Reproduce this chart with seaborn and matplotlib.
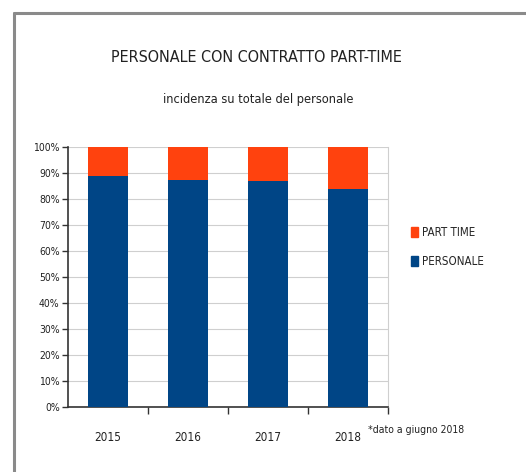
import pandas as pd
import seaborn as sns
from matplotlib import pyplot as plt
from matplotlib.lines import Line2D
from matplotlib.patches import Patch
from matplotlib.ticker import PercentFormatter, FixedLocator

anni = ['2015', '2016', '2017', '2018']
personale = [88.9, 87.5, 87.0, 84.0]
part_time = [11.1, 12.5, 13.0, 16.0]

blu = '#004586'
arancio = '#ff420e'

sns.set_style("white")
plt.rcParams['font.family'] = ['DejaVu Sans']
plt.rcParams['font.stretch'] = 'condensed'

df = pd.DataFrame({'anno': anni, 'PERSONALE': personale, 'PART TIME': part_time})
df['totale'] = df['PERSONALE'] + df['PART TIME']

fig = plt.figure(figsize=(5.26, 4.72), dpi=100)
# cornice grigia (solo sopra e a sinistra)
fig.lines.append(Line2D([13.5/526, 13.5/526], [0, 1 - 12.5/472], transform=fig.transFigure,
                        color='#8a8a8a', linewidth=2.2))
fig.lines.append(Line2D([13.5/526, 1], [1 - 12.5/472, 1 - 12.5/472], transform=fig.transFigure,
                        color='#8a8a8a', linewidth=2.2))

ax = fig.add_axes([68/526, 65/472, 320/526, 260/472])

sns.barplot(data=df, x='anno', y='totale', color=arancio, width=0.5, saturation=1,
            linewidth=0, ax=ax, zorder=3)
sns.barplot(data=df, x='anno', y='PERSONALE', color=blu, width=0.5, saturation=1,
            linewidth=0, ax=ax, zorder=3)

ax.set_xlim(-0.5, 3.5)
ax.set_ylim(0, 100)
ax.set_yticks(range(0, 101, 10))
ax.yaxis.set_major_formatter(PercentFormatter(decimals=0))
ax.grid(axis='y', color='#cfcfcf', linewidth=0.8, zorder=0)
ax.set_xlabel('')
ax.set_ylabel('')

ax.xaxis.set_minor_locator(FixedLocator([0.5, 1.5, 2.5, 3.5]))
ax.tick_params(axis='x', which='major', length=0, pad=17, labelsize=8.5, colors='#222222')
ax.tick_params(axis='x', which='minor', length=5, width=1, color='#333333', direction='out', bottom=True)
ax.tick_params(axis='y', length=4, width=1, color='#333333', direction='out', left=True,
               labelsize=7.5, colors='#222222', pad=2)

for s in ['left', 'bottom']:
    ax.spines[s].set_color('#333333')
    ax.spines[s].set_linewidth(1.2)
ax.spines['right'].set_color('#cfcfcf')
ax.spines['right'].set_linewidth(0.8)
ax.spines['top'].set_visible(False)

fig.text(256/526, 1 - 57/472, 'PERSONALE CON CONTRATTO PART-TIME', ha='center', va='center',
         fontsize=11.5, color='#222222')
fig.text(258/526, 1 - 100/472, 'incidenza su totale del personale', ha='center', va='center',
         fontsize=9.2, color='#222222')
fig.text(368/526, 1 - 430/472, '*dato a giugno 2018', ha='left', va='center',
         fontsize=7.5, color='#222222')

handles = [Patch(color=arancio, label='PART TIME'), Patch(color=blu, label='PERSONALE')]
fig.legend(handles=handles, loc='center left', bbox_to_anchor=(401/526, 1 - 247/472),
           frameon=False, handlelength=0.6, handleheight=0.9, handletextpad=0.3,
           labelspacing=1.4, fontsize=8.3)

fig.savefig('out.png', dpi=100)
